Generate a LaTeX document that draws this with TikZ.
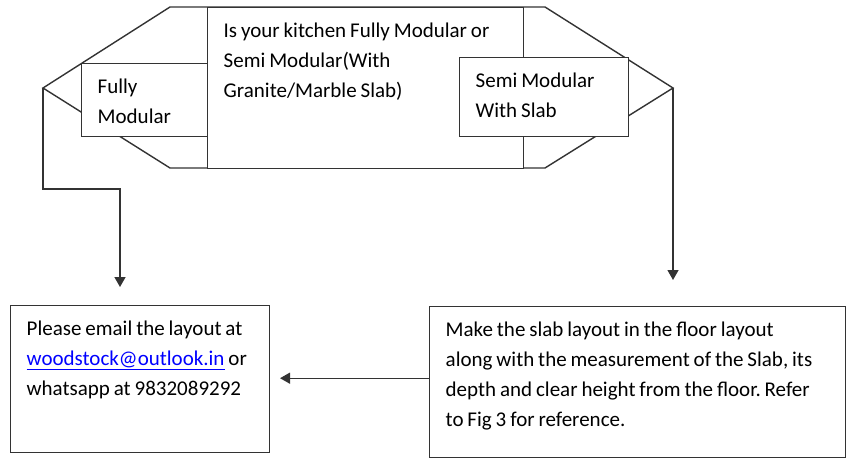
\documentclass[tikz,border=0pt]{standalone}
\usepackage{fontspec}
\setmainfont{Carlito}
\hyphenpenalty=10000
\usetikzlibrary{arrows.meta,positioning}
\newcommand{\boxfont}{\fontsize{21}{30}\selectfont\frenchspacing\spaceskip=3.9pt plus 2pt\relax}
\tikzset{
	box/.style={draw=black!80,line width=1.4pt,fill=white,align=flush left,font=\boxfont,
		anchor=north west,inner xsep=16pt,inner ysep=0pt,text height=30pt},
	link/.style={draw=black!80,line width=1.4pt,-{Triangle[width=11pt,length=10pt]}}
}
\newcommand{\maillink}[1]{\textcolor{blue}{\underline{#1}}}

\begin{document}
\begin{tikzpicture}[x=1pt,y=-1pt]
\useasboundingbox (0,0) rectangle (850,470);

% outer hexagon
\coordinate (hl) at (43,88);
\coordinate (hr) at (673,88);
\draw[black!80,line width=1.4pt] (hl) -- (170,7) -- (545,7) -- (hr) -- (545,168) -- (170,168) -- cycle;

\node[box,text width=284pt,text depth=131pt] (question) at (207,7) {Is your kitchen Fully Modular or\\Semi Modular(With\\Granite/Marble Slab)};
\node[box,text width=94pt,text depth=43pt] (fully) at (81,63) {Fully\\Modular};
\node[box,text width=137pt,text depth=49pt] (semi) at (459,57) {Semi Modular\\With Slab};

\node[box,text width=227pt,text depth=117pt] (email) at (10,305) {Please email the layout at\\\maillink{woodstock@outlook.in} or\\whatsapp at 9832089292};
\node[box,text width=384pt,text depth=121pt] (slab) at (429,306) {Make the slab layout in the floor layout\\along with the measurement of the Slab, its\\depth and clear height from the floor. Refer\\to Fig 3 for reference.};

\coordinate (ltip) at (120,287);
\coordinate (rtip) at (673,280);
\coordinate[left=149pt of slab.west,yshift=4pt] (mtip);

\draw[link] (hl) -- ++(0,101) -| (ltip);
\draw[link] (hr) -- (rtip);
\draw[link] (slab.west |- mtip) -- (mtip);

\end{tikzpicture}
\end{document}
